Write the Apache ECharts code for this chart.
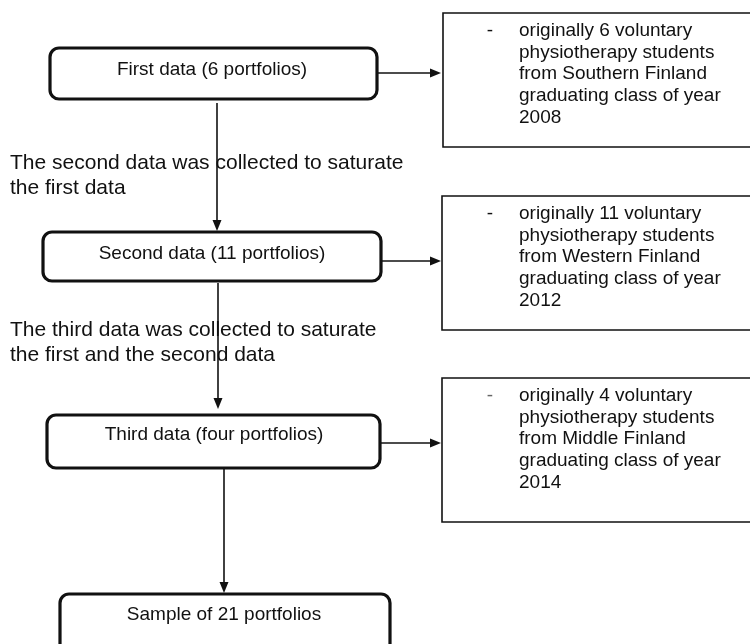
<!DOCTYPE html>
<html>
<head>
<meta charset="utf-8">
<script src="https://cdn.jsdelivr.net/npm/echarts@6/dist/echarts.min.js"></script>
<style>html,body{margin:0;padding:0;background:#fff;}#chart{width:750px;height:644px;}</style>
</head>
<body>
<div id="chart"></div>
<script>
// ---- content ----
const stepLabels = [
  'First data (6 portfolios)',
  'Second data (11 portfolios)',
  'Third data (four portfolios)',
  'Sample of 21 portfolios'
];
const bridgeNotes = [
  ['The second data was collected to saturate', 'the first data'],
  ['The third data was collected to saturate', 'the first and the second data']
];
const sourceNotes = [
  ['originally 6 voluntary', 'physiotherapy students', 'from Southern Finland', 'graduating class of year', '2008'],
  ['originally 11 voluntary', 'physiotherapy students', 'from Western Finland', 'graduating class of year', '2012'],
  ['originally 4 voluntary', 'physiotherapy students', 'from Middle Finland', 'graduating class of year', '2014']
];

// ---- layout (page units on hidden axes) ----
const stepBoxes = [[50,48,377,99],[43,232,381,281],[47,415,380,468],[60,594,390,654]];
const stepTextPos = [[212,70],[212,254],[214,435],[224,615]];
const sourceBoxes = [[443,13,772,147],[442,196,772,330],[442,378,772,522]];
const arrows = [[377,73,441,73],[381,261,441,261],[379,443,441,443],[217,103,217,231],[218,283,218,409],[224,469,224,593]];
const bridgePos = [[10,163],[10,330]];

const FONT = '"Liberation Sans", Arial, sans-serif';
const INK = '#111';

const chart = echarts.init(document.getElementById('chart'), null, {renderer: 'canvas'});

function stepRender(params, api) {
  const i = api.value(4);
  const p0 = api.coord([api.value(0), api.value(1)]);
  const p1 = api.coord([api.value(2), api.value(3)]);
  const t = api.coord(stepTextPos[i]);
  return {
    type: 'group',
    children: [
      {type: 'rect', shape: {x: p0[0], y: p0[1], width: p1[0]-p0[0], height: p1[1]-p0[1], r: 9},
       style: {fill: '#fff', stroke: INK, lineWidth: 3.2}},
      {type: 'text', x: t[0], y: t[1],
       style: {text: stepLabels[i], fontFamily: FONT, fontSize: 19, fill: INK, align: 'center', verticalAlign: 'middle'}}
    ]
  };
}

function sourceRender(params, api) {
  const i = api.value(4);
  const p0 = api.coord([api.value(0), api.value(1)]);
  const p1 = api.coord([api.value(2), api.value(3)]);
  const children = [
    {type: 'rect', shape: {x: p0[0], y: p0[1], width: p1[0]-p0[0], height: p1[1]-p0[1]},
     style: {fill: '#fff', stroke: INK, lineWidth: 1.6}}
  ];
  const lines = sourceNotes[i];
  const dash = api.coord([490, api.value(1) + 18]);
  children.push({type: 'text', x: dash[0], y: dash[1],
    style: {text: '-', fontFamily: FONT, fontSize: 19, fill: i === 2 ? '#666' : INK, align: 'center', verticalAlign: 'middle'}});
  lines.forEach(function (ln, k) {
    const p = api.coord([519, api.value(1) + 18 + k * 21.6]);
    children.push({type: 'text', x: p[0], y: p[1],
      style: {text: ln, fontFamily: FONT, fontSize: 19, fill: INK, align: 'left', verticalAlign: 'middle'}});
  });
  return {type: 'group', children: children};
}

function arrowRender(params, api) {
  const a = api.coord([api.value(0), api.value(1)]);
  const b = api.coord([api.value(2), api.value(3)]);
  const dx = b[0]-a[0], dy = b[1]-a[1];
  const len = Math.sqrt(dx*dx+dy*dy);
  const ux = dx/len, uy = dy/len;
  const hl = 11, hw = 4.5;
  const base = [b[0]-ux*hl, b[1]-uy*hl];
  return {
    type: 'group',
    children: [
      {type: 'line', shape: {x1: a[0], y1: a[1], x2: base[0], y2: base[1]}, style: {stroke: INK, lineWidth: 1.6}},
      {type: 'polygon', shape: {points: [b, [base[0]-uy*hw, base[1]+ux*hw], [base[0]+uy*hw, base[1]-ux*hw]]},
       style: {fill: INK}}
    ]
  };
}

function bridgeRender(params, api) {
  const i = api.value(2);
  const children = bridgeNotes[i].map(function (ln, k) {
    const p = api.coord([api.value(0), api.value(1) + k * 25]);
    return {type: 'text', x: p[0], y: p[1],
      style: {text: ln, fontFamily: FONT, fontSize: 21, fill: INK, align: 'left', verticalAlign: 'middle'}};
  });
  return {type: 'group', children: children};
}

chart.setOption({
  animation: false,
  backgroundColor: '#fff',
  grid: {left: 0, right: 0, top: 0, bottom: 0},
  xAxis: {type: 'value', min: 0, max: 750, show: false},
  yAxis: {type: 'value', min: 0, max: 644, inverse: true, show: false},
  series: [
    {type: 'custom', name: 'arrows', renderItem: arrowRender, encode: {x: [0, 2], y: [1, 3]},
     data: arrows.map(function (a, i) { return a.concat([i]); }), z: 1, silent: true},
    {type: 'custom', name: 'bridges', renderItem: bridgeRender, encode: {x: 0, y: 1},
     data: bridgePos.map(function (p, i) { return p.concat([i]); }), z: 0, silent: true},
    {type: 'custom', name: 'steps', renderItem: stepRender, encode: {x: [0, 2], y: [1, 3]},
     data: stepBoxes.map(function (b, i) { return b.concat([i]); }), z: 2, silent: true},
    {type: 'custom', name: 'sources', renderItem: sourceRender, encode: {x: [0, 2], y: [1, 3]},
     data: sourceBoxes.map(function (b, i) { return b.concat([i]); }), z: 2, silent: true}
  ]
});
</script>
</body>
</html>
